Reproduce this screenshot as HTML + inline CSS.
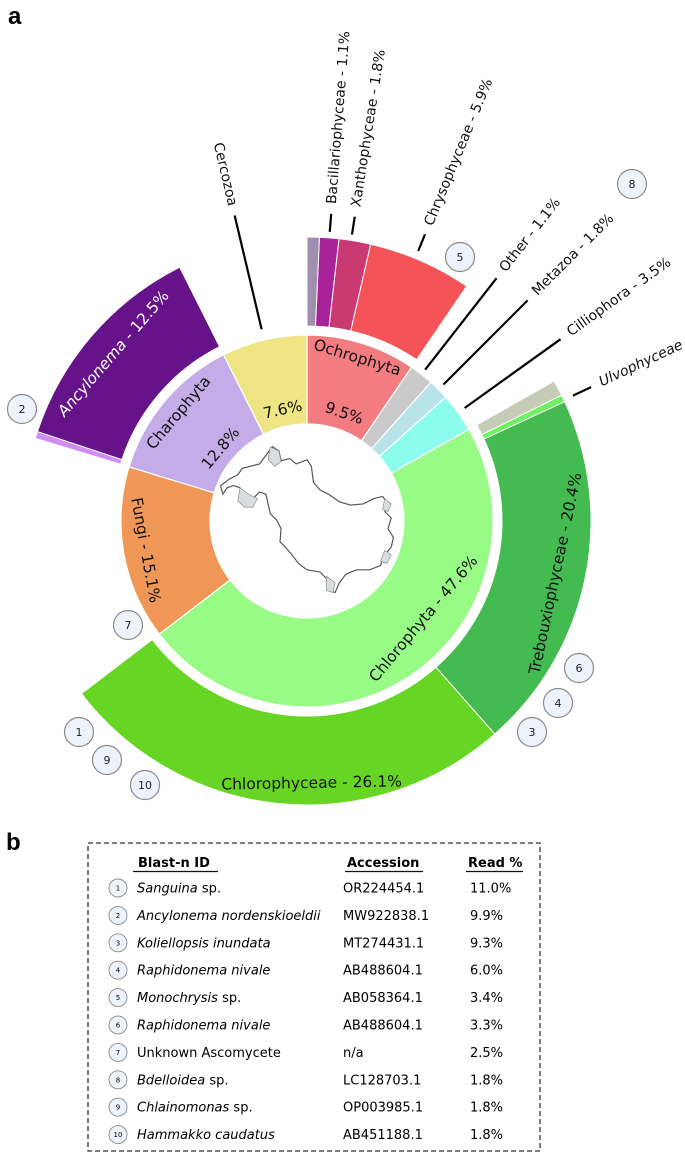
<!DOCTYPE html>
<html><head><meta charset="utf-8">
<style>
html,body{margin:0;padding:0;background:#fff;}
svg{display:block;font-family:"DejaVu Sans","Liberation Sans",sans-serif;}
</style></head>
<body>
<svg id="chart" width="685" height="1155" viewBox="0 0 685 1155" xmlns="http://www.w3.org/2000/svg">
<text x="8" y="24" font-size="24" font-weight="bold" font-family="Liberation Sans, sans-serif">a</text>
<text x="6" y="850" font-size="24" font-weight="bold" font-family="Liberation Sans, sans-serif">b</text>
<g id="rings"></g>
<g id="labels"></g>
<g id="map" transform="translate(307,518) scale(1.08) translate(-300,-518)">
<path d="M262,460 L268,452 L274,456 L276,465 L284,463 L290,468 L300,464 L304,470 L306,485 L312,492 L320,496 L330,503 L340,506 L352,505 L362,500 L370,498 L375,505 L372,512 L378,518 L375,528 L380,536 L378,545 L372,552 L368,562 L358,566 L346,566 L336,570 L330,578 L326,587 L320,585 L318,574 L312,568 L300,566 L292,560 L286,552 L280,545 L275,540 L276,528 L272,520 L266,514 L264,505 L262,496 L256,494 L250,500 L244,498 L238,490 L232,488 L226,490 L222,496 L220,488 L228,482 L236,478 L240,472 L248,470 L256,468 Z" fill="#fff" stroke="#555" stroke-width="1.1"/>
<path d="M238,490 L246,496 L254,500 L250,508 L242,508 L236,502 Z" fill="#d8dde0" stroke="#888" stroke-width="0.6"/>
<path d="M266,452 L274,456 L276,466 L270,470 L264,464 Z" fill="#d8dde0" stroke="#888" stroke-width="0.6"/>
<path d="M372,500 L378,505 L375,512 L370,510 Z" fill="#d8dde0" stroke="#888" stroke-width="0.6"/>
<path d="M318,572 L326,578 L324,587 L318,585 Z" fill="#d8dde0" stroke="#888" stroke-width="0.6"/>
<path d="M372,548 L378,552 L374,560 L368,558 Z" fill="#d8dde0" stroke="#888" stroke-width="0.6"/>
</g>
<g id="markers"></g>
<rect x="88" y="843" width="452" height="308" fill="none" stroke="#333" stroke-width="1.3" stroke-dasharray="5,3"/>
<g id="table" font-size="13"></g>
</svg>
<script>
// ---------- data ----------
const innerNames = ["Ochrophyta","Other","Metazoa","Cilliophora","Chlorophyta","Fungi","Charophyta","Cercozoa"];
const innerValues = [9.5, 2.1, 1.8, 3.4, 47.8, 15.1, 12.9, 7.4];
const innerColors = ["#f27c80","#cacaca","#b8e3e8","#8cfdec","#98fb86","#f09656","#c4ace8","#f0e584"];
const outerNames = ["Ochrophyta-other","Bacillariophyceae","Xanthophyceae","Chrysophyceae",null,"Chlorophyta-other","Ulvophyceae","Trebouxiophyceae","Chlorophyceae",null,"Charophyta-other","Ancylonema",null];
const outerValues = [0.7, 1.1, 1.8, 5.9, 7.3, 0.9, 0.4, 20.4, 26.1, 15.1, 0.4, 12.5, 7.4];
const outerColors = ["#9e8fae","#a8239a","#c93a72","#f45458",null,"#c6cbb6","#6ef062","#44bb50","#66d523",null,"#d08cf0","#66138a",null];
const markerIds = ["1","2","3","4","5","6","7","8","9","10"];
const tableNames = ["<tspan font-style='italic'>Sanguina</tspan> sp.","<tspan font-style='italic'>Ancylonema nordenskioeldii</tspan>","<tspan font-style='italic'>Koliellopsis inundata</tspan>","<tspan font-style='italic'>Raphidonema nivale</tspan>","<tspan font-style='italic'>Monochrysis</tspan> sp.","<tspan font-style='italic'>Raphidonema nivale</tspan>","Unknown Ascomycete","<tspan font-style='italic'>Bdelloidea</tspan> sp.","<tspan font-style='italic'>Chlainomonas</tspan> sp.","<tspan font-style='italic'>Hammakko caudatus</tspan>"];
const tableAccessions = ["OR224454.1","MW922838.1","MT274431.1","AB488604.1","AB058364.1","AB488604.1","n/a","LC128703.1","OP003985.1","AB451188.1"];
const tableReads = ["11.0%","9.9%","9.3%","6.0%","3.4%","3.3%","2.5%","1.8%","1.8%","1.8%"];

// ---------- geometry ----------
const NS="http://www.w3.org/2000/svg";
const cx=307, cy=521;
const R0=97, R1=186, R2=195, R3=284;
function ang(v){return v*3.6;}
function pt(r,a){const t=a*Math.PI/180;return [cx+r*Math.sin(t), cy-r*Math.cos(t)];}
function sector(r0,r1,a0,a1){
  const p1=pt(r1,a0),p2=pt(r1,a1),p3=pt(r0,a1),p4=pt(r0,a0);
  const lg=(a1-a0)>180?1:0;
  return `M${p1[0]},${p1[1]} A${r1},${r1} 0 ${lg} 1 ${p2[0]},${p2[1]} L${p3[0]},${p3[1]} A${r0},${r0} 0 ${lg} 0 ${p4[0]},${p4[1]} Z`;
}
const rings=document.getElementById('rings');
const innerMid={};
let acc=0;
innerValues.forEach((v,i)=>{
  const a0=ang(acc),a1=ang(acc+v); acc+=v;
  innerMid[innerNames[i]]=(a0+a1)/2;
  const p=document.createElementNS(NS,'path');
  p.setAttribute('d',sector(R0,R1,a0,a1));
  p.setAttribute('fill',innerColors[i]);
  p.setAttribute('stroke','#fff');p.setAttribute('stroke-width','1.2');
  
  
  rings.appendChild(p);
});
const outerMid={};
acc=0;
outerValues.forEach((v,i)=>{
  const a0=ang(acc),a1=ang(acc+v); acc+=v;
  if(!outerNames[i]) return;
  outerMid[outerNames[i]]=(a0+a1)/2;
  const p=document.createElementNS(NS,'path');
  p.setAttribute('d',sector(R2,R3,a0,a1));
  p.setAttribute('fill',outerColors[i]);
  p.setAttribute('stroke','#fff');p.setAttribute('stroke-width','1');
  
  
  rings.appendChild(p);
});
outerMid["Ulvo"]=(outerMid["Chlorophyta-other"]+outerMid["Ulvophyceae"])/2;

// ---------- labels ----------
const L=document.getElementById('labels');
function txt(str,r,a,rot,size,anchor,fill,name){
  const p=pt(r,a);
  const t=document.createElementNS(NS,'text');
  t.setAttribute('x',p[0]);t.setAttribute('y',p[1]);
  t.setAttribute('transform',`rotate(${rot} ${p[0]} ${p[1]})`);
  t.setAttribute('font-size',size);
  t.setAttribute('text-anchor',anchor);
  t.setAttribute('dominant-baseline','central');
  t.setAttribute('fill',fill||'#111');
  t.innerHTML=str;
  
  
  L.appendChild(t);
}
function line(r0,r1,a,name){
  const p=pt(r0,a),q=pt(r1,a);
  const l=document.createElementNS(NS,'line');
  l.setAttribute('x1',p[0]);l.setAttribute('y1',p[1]);l.setAttribute('x2',q[0]);l.setAttribute('y2',q[1]);
  l.setAttribute('stroke','#000');l.setAttribute('stroke-width','2.2');
  
  
  L.appendChild(l);
}
txt("Ochrophyta",171,innerMid["Ochrophyta"],innerMid["Ochrophyta"],15.5,'middle','#111','ochrophyta-label');
txt("9.5%",114,19,19,15.5,'middle','#111','ochrophyta-percent');
txt("7.6%",114,innerMid["Cercozoa"]+1,innerMid["Cercozoa"]+1-360,15.5,'middle','#111','cercozoa-percent');
txt("Charophyta",168,innerMid["Charophyta"],innerMid["Charophyta"]-360,15.5,'middle','#111','charophyta-label');
txt("12.8%",113,innerMid["Charophyta"],innerMid["Charophyta"]-360,15.5,'middle','#111','charophyta-percent');
txt("Fungi - 15.1%",164,innerMid["Fungi"],innerMid["Fungi"]-180,15.5,'middle','#111','fungi-label');
txt("Chlorophyta - 47.6%",152,130,130-180,15.5,'middle','#111','chlorophyta-label');
txt("Trebouxiophyceae - 20.4%",254,outerMid["Trebouxiophyceae"],outerMid["Trebouxiophyceae"]-180,15.5,'middle','#111','trebouxiophyceae-label');
txt("Chlorophyceae - 26.1%",262,179,-1,15.5,'middle','#111','chlorophyceae-label');
txt("<tspan font-style='italic'>Ancylonema</tspan> - 12.5%",256,outerMid["Ancylonema"],outerMid["Ancylonema"]-360,15.5,'middle','#fff','ancylonema-label');
line(197,314,innerMid["Cercozoa"],'cercozoa-callout');
txt("Cercozoa",324,innerMid["Cercozoa"],innerMid["Cercozoa"]+90-360,14,'end','#111','cercozoa-label');
const calls=[["Bacillariophyceae - 1.1%",outerMid["Bacillariophyceae"],290,308,'bacillariophyceae'],
["Xanthophyceae - 1.8%",outerMid["Xanthophyceae"]-0.8,290,308,'xanthophyceae'],
["Chrysophyceae - 5.9%",outerMid["Chrysophyceae"]-1.2,292,310,'chrysophyceae'],
["Other - 1.1%",innerMid["Other"],192,308,'other'],
["Metazoa - 1.8%",innerMid["Metazoa"],193,312,'metazoa'],
["Cilliophora - 3.5%",innerMid["Cilliophora"],194,312,'cilliophora'],
["<tspan font-style='italic'>Ulvophyceae</tspan>",outerMid["Ulvo"]+1.5,294,314,'ulvophyceae']];
calls.forEach(c=>{
  line(c[2],c[3],c[1],c[4]+'-callout');
  txt(c[0],c[3]+10,c[1],c[1]-90,14,'start','#111',c[4]+'-label');
});

// ---------- markers ----------
const markerX=[79,22,532,558,460,579,128,632,107,145];
const markerY=[732,409,732,703,257,668,625,184,760,785];
const M=document.getElementById('markers');
markerIds.forEach((id,i)=>{
  const g=document.createElementNS(NS,'g');
  
  
  g.innerHTML=`<circle cx="${markerX[i]}" cy="${markerY[i]}" r="14.5" fill="#edf2fb" stroke="#8a8a8a" stroke-width="1.2"/><text x="${markerX[i]}" y="${markerY[i]+4}" font-size="11" text-anchor="middle" fill="#222">${id}</text>`;
  M.appendChild(g);
});

// ---------- table ----------
const T=document.getElementById('table');
const hdr=[["Blast-n ID",138,133,218],["Accession",347,345,423],["Read %",468,466,523]];
hdr.forEach(h=>{
  const g=document.createElementNS(NS,'g');
  
  
  g.innerHTML=`<text x="${h[1]}" y="867" font-weight="bold" font-size="13">${h[0]}</text><line x1="${h[2]}" y1="871.5" x2="${h[3]}" y2="871.5" stroke="#111" stroke-width="1.3"/>`;
  T.appendChild(g);
});
tableNames.forEach((n,i)=>{
  const y=888+i*27.4;
  const g=document.createElementNS(NS,'g');
  
  
  g.innerHTML=`<circle cx="118" cy="${y}" r="9" fill="#edf2fb" stroke="#8a8a8a" stroke-width="0.9"/><text x="118" y="${y+2.5}" font-size="7" text-anchor="middle">${markerIds[i]}</text>
  <text x="137" y="${y+4.5}">${n}</text><text x="343" y="${y+4.5}">${tableAccessions[i]}</text><text x="470" y="${y+4.5}">${tableReads[i]}</text>`;
  T.appendChild(g);
});
</script>
</body></html>
